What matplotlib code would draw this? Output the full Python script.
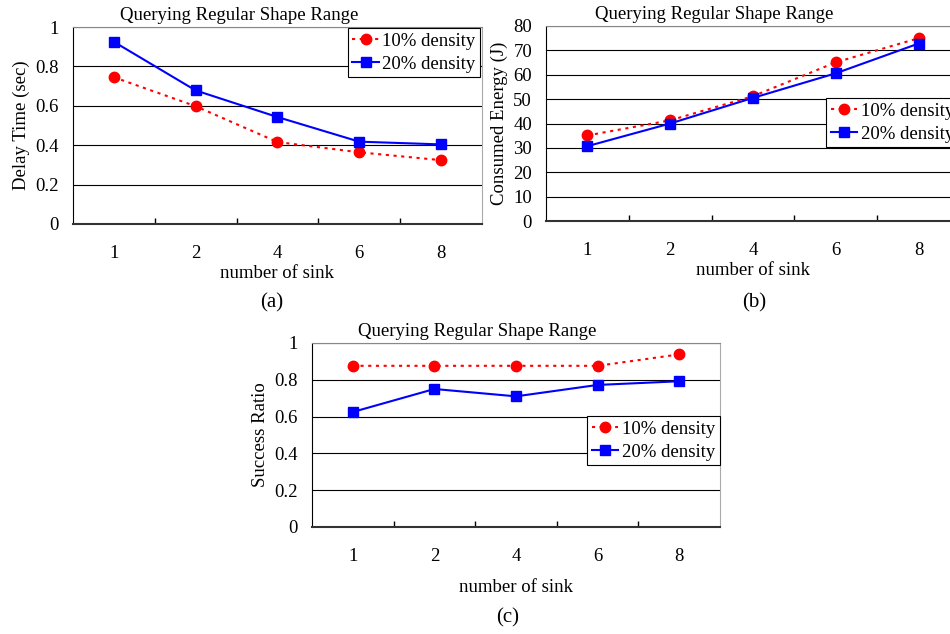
import numpy as np
import matplotlib
matplotlib.use('Agg')
import matplotlib.pyplot as plt

plt.rcParams['font.family'] = ['Liberation Serif', 'DejaVu Serif']
plt.rcParams['font.size'] = 13.5

# data
sinks = ['1', '2', '4', '6', '8']
title = 'Querying Regular Shape Range'
series_names = ['10% density', '20% density']

delay_10 = [0.745, 0.598, 0.416, 0.364, 0.324]
delay_20 = [0.925, 0.678, 0.543, 0.418, 0.404]

energy_10 = [35.1, 41.3, 51.2, 65.1, 75.0]
energy_20 = [30.7, 40.0, 50.5, 60.6, 72.8]

success_10 = [0.876, 0.876, 0.876, 0.876, 0.938]
success_20 = [0.625, 0.750, 0.710, 0.772, 0.792]

ratio_ticks = [0, 0.2, 0.4, 0.6, 0.8, 1]
ratio_labels = ['0', '0.2', '0.4', '0.6', '0.8', '1']
energy_ticks = [0, 10, 20, 30, 40, 50, 60, 70, 80]
energy_labels = [str(v) for v in energy_ticks]

fig = plt.figure(figsize=(9.5, 6.34), dpi=100)

# axes boxes in figure fractions (left, bottom, width, height)
ax_a = fig.add_axes([0.0768, 0.6467, 0.4305, 0.3107])
ax_b = fig.add_axes([0.5747, 0.6514, 0.4358, 0.3076])
ax_c = fig.add_axes([0.3284, 0.1688, 0.4295, 0.2902])


def style_panel(ax, s10, s20, yticks, ylabels, ylabel, leg_anchor):
    x = np.arange(len(sinks))
    ax.plot(x, s10, color='#ff0000', lw=1.5, linestyle=(0, (1.5, 2.2)),
            marker='o', ms=7.5, label=series_names[0], zorder=3)
    ax.plot(x, s20, color='#0000ff', lw=1.5, linestyle='-',
            marker='s', ms=7.5, label=series_names[1], zorder=3)
    ax.set_xlim(-0.5, len(sinks) - 0.5)
    ax.set_ylim(yticks[0], yticks[-1])
    ax.set_yticks(yticks)
    ax.set_yticklabels(ylabels)
    ax.set_xticks(x)
    ax.set_xticklabels(sinks)
    ax.set_xticks(x[:-1] + 0.5, minor=True)
    ax.tick_params(axis='x', which='major', length=0, pad=15)
    ax.tick_params(axis='x', which='minor', direction='in', length=4,
                   width=1, color='black')
    ax.tick_params(axis='y', length=0, pad=10)
    ax.grid(axis='y', color='black', lw=0.8)
    ax.set_axisbelow(True)
    ax.spines['left'].set_color('black')
    ax.spines['bottom'].set_color('#333333')
    ax.spines['bottom'].set_linewidth(1.5)
    ax.spines['top'].set_color('#888888')
    ax.spines['right'].set_color('#aaaaaa')
    ax.set_xlabel('number of sink', labelpad=2)
    ax.set_ylabel(ylabel, labelpad=4)
    ax.text(0.406, 1.015, title, transform=ax.transAxes, ha='center', va='bottom')
    leg = ax.legend(loc='upper left', bbox_to_anchor=leg_anchor, fancybox=False,
                    handlelength=1.4, handletextpad=0.2, labelspacing=0.3,
                    borderpad=0.25, borderaxespad=0, framealpha=1)
    leg.get_frame().set_edgecolor('black')
    leg.get_frame().set_linewidth(0.8)


style_panel(ax_a, delay_10, delay_20, ratio_ticks, ratio_labels,
            'Delay Time (sec)', (0.672, 0.995))
style_panel(ax_b, energy_10, energy_20, energy_ticks, energy_labels,
            'Consumed Energy (J)', (0.676, 0.631))
style_panel(ax_c, success_10, success_20, ratio_ticks, ratio_labels,
            'Success Ratio', (0.674, 0.603))
ax_c.xaxis.labelpad = 10

fig.text(272 / 950, 1 - 303 / 634, '(a)', ha='center', va='center', fontsize=15)
fig.text(754 / 950, 1 - 303 / 634, '(b)', ha='center', va='center', fontsize=15)
fig.text(508 / 950, 1 - 618 / 634, '(c)', ha='center', va='center', fontsize=15)

fig.savefig('out.png', dpi=100)
